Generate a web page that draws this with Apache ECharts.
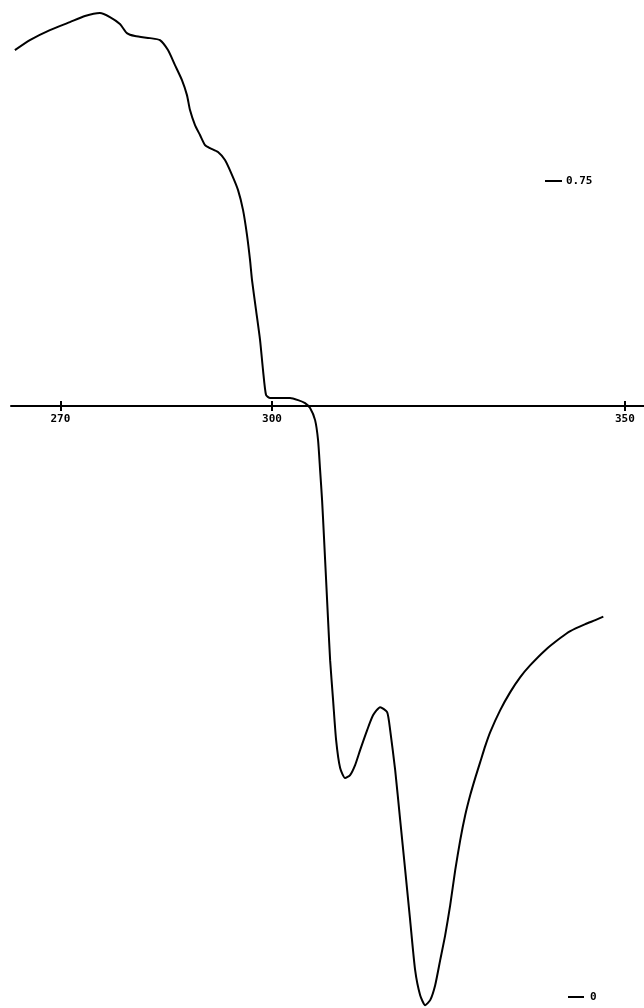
<!DOCTYPE html>
<html>
<head>
<meta charset="utf-8">
<script src="https://cdn.jsdelivr.net/npm/echarts@6/dist/echarts.min.js"></script>
<style>html,body{margin:0;padding:0;background:#fff}#c{width:644px;height:1008px}</style>
</head>
<body>
<div id="c"></div>
<script>
// wavelength (nm)
var wavelengths = [263.55,265.67,268.51,271.35,273.48,275.60,277.02,278.44,279.43,280.57,282.70,284.11,285.25,286.24,287.23,287.94,288.37,289.08,289.79,290.50,291.21,292.34,293.33,294.33,295.18,295.89,296.45,296.88,297.16,297.73,298.30,298.72,299.15,299.72,301.13,302.55,303.69,304.68,305.39,306.10,306.52,306.81,307.09,307.38,307.66,307.94,308.23,308.65,309.08,309.65,310.35,311.06,311.77,312.48,313.48,314.33,315.32,316.31,316.74,317.45,318.16,318.87,319.57,320.28,320.99,321.70,322.41,323.12,323.83,324.54,325.25,325.96,326.67,327.38,328.09,328.79,329.50,330.21,330.92,332.34,333.76,335.18,336.60,338.72,340.85,342.27,344.40,345.82,346.95];
// signal
var signal = [0.8704,0.8796,0.8888,0.8961,0.9017,0.9044,0.9007,0.8943,0.8860,0.8833,0.8814,0.8796,0.8704,0.8566,0.8428,0.8290,0.8153,0.8015,0.7923,0.7831,0.7803,0.7767,0.7693,0.7555,0.7417,0.7233,0.7004,0.6774,0.6590,0.6314,0.6039,0.5763,0.5533,0.5506,0.5506,0.5506,0.5487,0.5460,0.5414,0.5303,0.5119,0.4844,0.4568,0.4200,0.3833,0.3465,0.3097,0.2730,0.2362,0.2105,0.2013,0.2040,0.2132,0.2270,0.2454,0.2592,0.2665,0.2619,0.2454,0.2086,0.1627,0.1167,0.0708,0.0248,0.0018,-0.0074,-0.0028,0.0110,0.0340,0.0570,0.0846,0.1167,0.1443,0.1673,0.1857,0.2013,0.2160,0.2307,0.2436,0.2638,0.2803,0.2941,0.3051,0.3189,0.3300,0.3364,0.3428,0.3465,0.3497];
var xTickLabels = [270, 300, 350];
var yTickUpper = [0.75];
var yTickLower = [0];
var baseline = 0.5432; // signal level where the wavelength axis is drawn

var yMin = -0.01, yMax = 0.91;
var xMin = 263, xMax = 353;
var data = wavelengths.map(function (w, i) { return [w, signal[i]]; });
var font = '"DejaVu Sans Mono", monospace';

// pixel geometry of the plot area
var gLeft = 11, gTop = 7, gWidth = 635, gHeight = 1001;
var axisGridHeight = gHeight * (yMax - baseline) / (yMax - yMin);

var chart = echarts.init(document.getElementById('c'), null, {renderer: 'canvas'});
chart.setOption({
  animation: false,
  backgroundColor: '#fff',
  grid: [
    {left: gLeft, top: gTop, width: gWidth, height: gHeight, outerBoundsMode: 'none', containLabel: false},
    {left: gLeft, top: gTop, width: gWidth, height: axisGridHeight, outerBoundsMode: 'none', containLabel: false}
  ],
  xAxis: [{
    gridIndex: 0, type: 'value', min: xMin, max: xMax, show: false, splitLine: {show: false}
  }, {
    gridIndex: 1, type: 'value', min: xMin, max: xMax, position: 'bottom',
    axisLine: {show: true, onZero: false, lineStyle: {color: '#000', width: 2}},
    axisTick: {show: true, inside: false, length: 5, customValues: xTickLabels, lineStyle: {color: '#000', width: 2}},
    axisLabel: {show: true, customValues: xTickLabels, margin: 8, color: '#000', fontFamily: font, fontSize: 11, fontWeight: 'bold'},
    splitLine: {show: false}
  }, {
    gridIndex: 1, type: 'value', min: xMin, max: xMax, position: 'bottom',
    axisLine: {show: false, onZero: false},
    axisTick: {show: true, inside: true, length: 5, customValues: xTickLabels, lineStyle: {color: '#000', width: 2}},
    axisLabel: {show: false},
    splitLine: {show: false}
  }],
  yAxis: [{
    gridIndex: 0, type: 'value', min: yMin, max: yMax, position: 'left', offset: -534,
    axisLine: {show: false},
    axisTick: {show: true, inside: true, length: 17, customValues: yTickUpper, lineStyle: {color: '#000', width: 2}},
    axisLabel: {show: true, inside: true, margin: 21, customValues: yTickUpper, formatter: function (v) { return v.toFixed(2); }, color: '#000', fontFamily: font, fontSize: 11, fontWeight: 'bold'},
    splitLine: {show: false}
  }, {
    gridIndex: 0, type: 'value', min: yMin, max: yMax, position: 'left', offset: -557,
    axisLine: {show: false},
    axisTick: {show: true, inside: true, length: 16, customValues: yTickLower, lineStyle: {color: '#000', width: 2}},
    axisLabel: {show: true, inside: true, margin: 22, customValues: yTickLower, formatter: function (v) { return String(v); }, color: '#000', fontFamily: font, fontSize: 11, fontWeight: 'bold'},
    splitLine: {show: false}
  }, {
    gridIndex: 1, type: 'value', min: baseline, max: yMax, show: false, splitLine: {show: false}
  }],
  series: [{
    type: 'line', xAxisIndex: 0, yAxisIndex: 0, data: data,
    smooth: 0.2, showSymbol: false, clip: false,
    lineStyle: {color: '#000', width: 2}
  }]
});
</script>
</body>
</html>
